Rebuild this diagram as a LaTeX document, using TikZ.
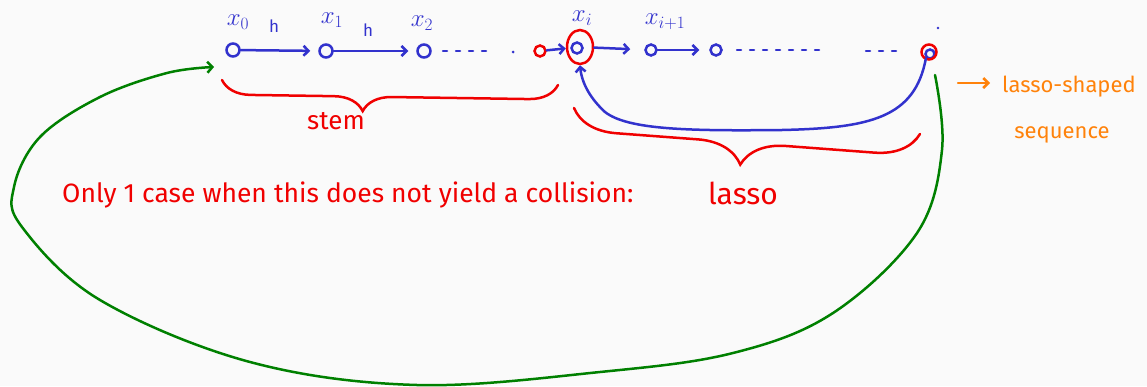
\documentclass[tikz,border=0pt]{standalone}
\usepackage{fontspec}
\setmainfont{Fira Sans}
\usetikzlibrary{arrows.meta,decorations.pathreplacing,calc,shapes.geometric}
\definecolor{myblue}{RGB}{50,50,205}
\definecolor{myred}{RGB}{240,0,0}
\definecolor{mygreen}{RGB}{0,128,0}
\definecolor{myorange}{RGB}{255,130,10}
\definecolor{bg}{RGB}{250,250,250}
\begin{document}
\begin{tikzpicture}[x=1pt,y=-1pt,
  pt/.style={circle,draw=myblue,line width=2.5,inner sep=0pt,minimum size=13pt},
  lbl/.style={text=myblue,font=\fontsize{26}{26}\selectfont,inner sep=0pt},
  hl/.style={text=myblue,font=\fontsize{17}{17}\selectfont,inner sep=0pt},
  con/.style={draw=myblue,line width=2.5,line cap=round,-{Straight Barb[length=5pt,width=10pt]}},
  dots/.style={draw=myblue,line width=2.5,line cap=round,dash pattern=on 4pt off 9pt},
  redline/.style={draw=myred,line width=2.5,line cap=round},
  redtxt/.style={text=myred,inner sep=0pt},
  oratxt/.style={text=myorange,inner sep=0pt,font=\fontsize{22}{22}\selectfont},
  greenline/.style={draw=mygreen,line width=2.5,line cap=round,-{Straight Barb[length=5pt,width=11pt]}}
]
\useasboundingbox[fill=bg] (0,0) rectangle (1147,386);

% chain nodes
\node[pt] (x0) at (233,50) {};
\node[pt] (x1) at (326,51) {};
\node[pt] (x2) at (424,51) {};
\node[pt,draw=myred,minimum size=11pt] (xr) at (540,51) {};
\node[pt,minimum size=11pt] (xi) at (577,48) {};
\node[ellipse,draw=myred,line width=2.5,inner sep=0pt,minimum width=26pt,minimum height=34pt] (xir) at (580,47) {};
\node[pt,minimum size=11pt] (xi1) at (651,50) {};
\node[pt,minimum size=11pt] (xi2) at (716,50) {};
\node[pt,minimum size=9pt] (xn) at (930,54) {};
\node[circle,draw=myred,line width=2.5,inner sep=0pt,minimum size=15pt] (xnr) at (929,52) {};

% labels
\node[lbl] (l0) at (238,22) {$x_0$};
\node[hl] (h1) at (274,26) {h};
\node[lbl] (l1) at (332,20) {$x_1$};
\node[hl] (h2) at (368,30) {h};
\node[lbl] (l2) at (422,23) {$x_2$};
\node[lbl] (li) at (582,18) {$x_i$};
\node[lbl] (li1) at (665,22) {$x_{i+1}$};
\fill[myblue] (938,28) circle (1.4);

% arrows along the chain
\draw[con,shorten >=8pt] (x0) -- (x1);
\draw[con,shorten >=8pt] (x1) -- (x2);
\draw[con] (xr) -- (xir);
\draw[con,shorten >=14pt] (xir) -- (xi1);
\draw[con,shorten >=10pt] (xi1) -- (xi2);

% ellipses
\draw[dots] (443,51) -- (492,51);
\fill[myblue] (513,52) circle (1.5);
\draw[dots] (737,50) -- (826,50);
\draw[dots] (866,51) -- (902,51);

% blue back arrow
\draw[con] (xn.south west) .. controls (915,118) and (870,128) .. (782,130)
  .. controls (690,131) and (628,130) .. (605,112)
  .. controls (592,100) and (582,85) .. (xir.south);

% stem brace
\coordinate (s1) at (222,80);
\coordinate (s2) at (558,85);
\draw[redline,decorate,decoration={brace,mirror,amplitude=29pt,aspect=0.42}] (s1) -- (s2);
\node[redtxt,font=\fontsize{26}{26}\selectfont] (stem) at (336,121) {stem};

% lasso brace
\coordinate (t1) at (574,108);
\coordinate (t2) at (920,134);
\draw[redline,decorate,decoration={brace,mirror,amplitude=44pt,aspect=0.49}] (t1) -- (t2);
\node[redtxt,font=\fontsize{30}{30}\selectfont] (lasso) at (743,193) {lasso};

% red sentence
\node[redtxt,anchor=base west,font=\fontsize{26.5}{26.5}\selectfont] (only) at (62,202) {Only 1 case when this does not yield a collision:};

% orange annotation
\node[oratxt,anchor=base west] (ls) at (1002,92) {lasso-shaped};
\node[oratxt] (seq) at (1062,135) {sequence};
\coordinate (oa) at (958,83);
\draw[draw=myorange,line width=2.5,line cap=round,shorten >=12pt,-{Straight Barb[length=5pt,width=10pt]}] (oa) -- (ls.west |- oa);

% green loop
\coordinate (gs) at ($(xn)+(5,21)$);
\coordinate (ge) at ($(x0)+(-19,17)$);
\draw[greenline] plot[smooth,tension=0.6] coordinates {(gs) (942,150) (917,233) (833,313) (733,353) (600,372) (417,385) (250,362) (100,300) (22,227) (14,187) (40,137) (100,97) (167,73) (ge)};
\end{tikzpicture}
\end{document}
